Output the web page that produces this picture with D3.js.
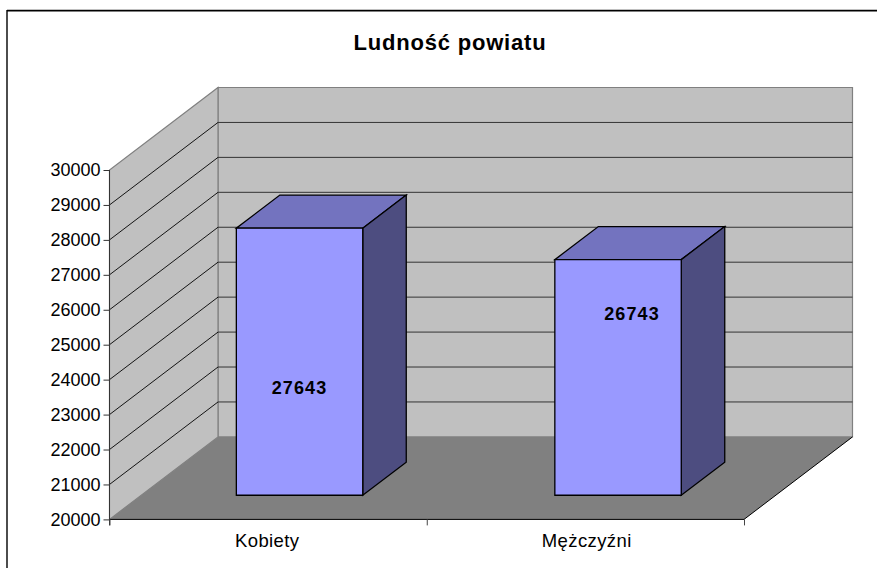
<!DOCTYPE html>
<html><head><meta charset="utf-8">
<style>html,body{margin:0;padding:0;background:#fff}svg{display:block}text{font-family:"Liberation Sans",Arial,sans-serif;fill:#000}</style>
<script src="https://cdnjs.cloudflare.com/ajax/libs/d3/7.8.5/d3.min.js"></script>
</head><body><svg id="c" width="877" height="568"></svg>
<script>
const title = "Ludność powiatu";
const categories = ["Kobiety", "Mężczyźni"];
const values = [27643, 26743];
const yTicks = [20000,21000,22000,23000,24000,25000,26000,27000,28000,29000,30000];

const svg = d3.select("#c");
const y = d3.scaleLinear().domain([20000,30000]).range([519.4,170]);
const x = d3.scaleBand().domain(categories).range([109,746]).paddingInner(0.6).paddingOuter(0.3);
const L=109.5, R=744, DX=108.5, DY=-82.5;
const poly=(pts,fill,stroke,sw)=>svg.append("polygon").attr("points",pts.map(p=>p.join(",")).join(" ")).attr("fill",fill).attr("stroke",stroke||"none").attr("stroke-width",sw||0).attr("stroke-linejoin","miter");
const line=(x1,y1,x2,y2,c,w)=>svg.append("line").attr("x1",x1).attr("y1",y1).attr("x2",x2).attr("y2",y2).attr("stroke",c).attr("stroke-width",w||1);

// outer frame: only the top and left edges fall inside the picture
line(7,10.7,877,10.7,"#000",1.8);
line(7,10,7,568,"#000",1.4);

const y0=y(20000), y1=y(30000);
poly([[L+DX,y0+DY],[R+DX,y0+DY],[R+DX,y1+DY],[L+DX,y1+DY]],"#c0c0c0","#808080",1.2);
poly([[L,y0],[L+DX,y0+DY],[L+DX,y1+DY],[L,y1]],"#c0c0c0","#808080",1.2);
poly([[L,y0],[R,y0],[R+DX,y0+DY],[L+DX,y0+DY]],"#808080");
yTicks.filter(t=>t>20000&&t<30000).forEach(t=>{
  line(L,y(t),L+DX,y(t)+DY,"#000",0.9);
  line(L+DX,y(t)+DY,R+DX,y(t)+DY,"#333",1);
});
line(L,y0,R,y0,"#000",1);
line(R,y0,R+DX,y0+DY,"#000",1);

const axisY=d3.axisLeft(y).tickValues(yTicks).tickSize(6).tickPadding(3).tickFormat(d3.format("d"));
const gy=svg.append("g").attr("transform",`translate(${L},0)`).call(axisY);
gy.select(".domain").attr("stroke","#333").attr("d",`M0,${y1}V${y0+6}`);
gy.selectAll("line").attr("stroke","#333");
gy.selectAll("text").attr("font-size",18);
const axisX=d3.axisBottom(d3.scalePoint().domain([0,1,2]).range([L,R])).tickSize(6).tickFormat("");
const gx=svg.append("g").attr("transform",`translate(0,${y0})`).call(axisX);
gx.select(".domain").remove();
gx.selectAll("line").attr("stroke","#444");
svg.append("g").selectAll("text").data(categories).join("text").attr("x",(d,i)=>x(d)+x.bandwidth()/2-(i?0:1)).attr("y",546.5).attr("text-anchor","middle").attr("font-size",18.5).attr("letter-spacing",0.4).text(d=>d);

const f0=0.293, f1=0.694;
const labelShiftX=[0,14], labelBaseline=[394,320];
categories.forEach((c,i)=>{
  const xa=x(c)+f0*DX, xb=xa+x.bandwidth()-1;
  const ox=(f1-f0)*DX, oy=(f1-f0)*DY;
  const top=y(values[i])+f0*DY, bot=y0+f0*DY;
  poly([[xa,top],[xb,top],[xb+ox,top+oy],[xa+ox,top+oy]],"#7373bf","#000",1.3);
  poly([[xb,top],[xb+ox,top+oy],[xb+ox,bot+oy],[xb,bot]],"#4d4d80","#000",1.3);
  poly([[xa,top],[xb,top],[xb,bot],[xa,bot]],"#9999ff","#000",1.3);
  svg.append("text").attr("x",(xa+xb)/2+labelShiftX[i]).attr("y",labelBaseline[i]).attr("text-anchor","middle").attr("font-size",18).attr("font-weight","bold").attr("letter-spacing",1.1).text(values[i]);
});
svg.append("text").attr("x",450).attr("y",49.5).attr("text-anchor","middle").attr("font-size",22).attr("font-weight","bold").attr("letter-spacing",0.8).text(title);
</script></body></html>
